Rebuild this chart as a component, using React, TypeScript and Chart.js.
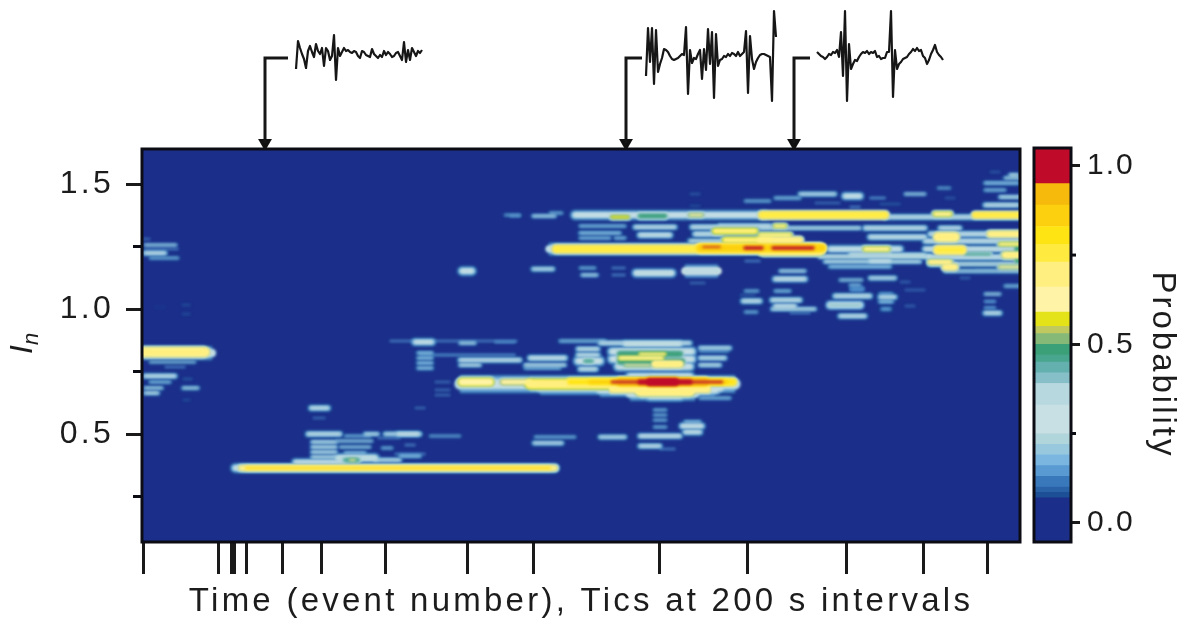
import React, { useEffect, useRef } from "react";
import { Chart, registerables } from "chart.js";

Chart.register(...registerables);

type Band = [number, number, number, number, number]; // event from, event to, In, probability, In spread

const xTickEvents = [143, 218, 231, 234, 246, 282, 321, 385, 467, 533, 659, 747, 846, 923, 987];
const yLabelled = [0.5, 1.0, 1.5];
const yMinor = [0.25, 0.75, 1.25];
const probLabelled = [0.0, 0.5, 1.0];
const probMinor = [0.25, 0.75];

const probEdges = [-0.054, 0.07, 0.085, 0.1, 0.13, 0.16, 0.19, 0.22, 0.25, 0.33, 0.39, 0.42, 0.45, 0.47, 0.5, 0.53, 0.55, 0.59, 0.66, 0.73, 0.78, 0.83, 0.89, 0.95, 1.05];
const probColors = ["#1b2f8a", "#1c4f96", "#2a62a8", "#3a78bc", "#5a9ad2", "#7ab6e0", "#98c8de", "#b0d6dc", "#c8dfe4", "#b8d8e0", "#86bfc8", "#64b0ae", "#48a68e", "#3ba078", "#86b878", "#c0c860", "#e4e218", "#fff3a8", "#ffef80", "#ffeb40", "#ffe414", "#fcd00e", "#f6ba0c", "#c00a2a"];

const bandsEarly: Band[] = [
  [145, 176, 1.256, 0.25, 0.006], [143, 150, 1.28, 0.15, 0.004], [145, 165, 1.224, 0.3, 0.01],
  [150, 178, 1.204, 0.2, 0.006], [145, 178, 1.24, 0.15, 0.006],
  [143, 212, 0.824, 0.3, 0.04], [143, 205, 0.828, 0.72, 0.032],
  [150, 195, 0.788, 0.22, 0.006], [165, 185, 0.768, 0.15, 0.006], [145, 175, 0.732, 0.3, 0.01],
  [150, 170, 0.708, 0.2, 0.008], [145, 162, 0.684, 0.22, 0.01], [145, 158, 0.664, 0.25, 0.01],
  [183, 198, 0.684, 0.22, 0.01], [183, 192, 0.72, 0.1, 0.006], [183, 190, 0.636, 0.1, 0.004],
  [155, 165, 1.008, 0.08, 0.004], [182, 190, 1.016, 0.1, 0.004], [182, 190, 0.98, 0.1, 0.004],
];

const bandsLow: Band[] = [
  [235, 555, 0.364, 0.3, 0.024], [241, 555, 0.364, 0.72, 0.014], [246, 550, 0.364, 0.88, 0.006],
  [311, 328, 0.604, 0.3, 0.012], [313, 325, 0.564, 0.15, 0.004], [308, 340, 0.5, 0.3, 0.012],
  [312, 336, 0.468, 0.25, 0.01], [312, 336, 0.448, 0.25, 0.01], [312, 336, 0.428, 0.25, 0.01],
  [312, 336, 0.408, 0.25, 0.01], [295, 345, 0.388, 0.3, 0.016],
  [345, 370, 0.492, 0.2, 0.006], [337, 372, 0.472, 0.22, 0.008], [340, 370, 0.448, 0.22, 0.008],
  [345, 365, 0.424, 0.2, 0.01], [338, 375, 0.404, 0.33, 0.026], [345, 358, 0.396, 0.46, 0.014],
  [350, 355, 0.396, 0.6, 0.006], [365, 378, 0.5, 0.25, 0.01],
  [398, 418, 0.5, 0.3, 0.01], [378, 400, 0.484, 0.15, 0.006], [382, 392, 0.444, 0.2, 0.006],
  [375, 400, 0.396, 0.25, 0.012], [405, 415, 0.456, 0.15, 0.006], [400, 420, 0.412, 0.2, 0.01],
  [430, 460, 0.492, 0.2, 0.004], [395, 425, 0.42, 0.15, 0.006],
];

const bandsMiddle: Band[] = [
  [460, 735, 0.7, 0.3, 0.056], [540, 720, 0.688, 0.3, 0.046], [600, 715, 0.68, 0.3, 0.046], [630, 695, 0.664, 0.3, 0.046], [650, 680, 0.652, 0.3, 0.028], [630, 690, 0.73, 0.3, 0.028],
  [462, 490, 0.708, 0.64, 0.028], [503, 530, 0.708, 0.62, 0.018], [530, 640, 0.7, 0.66, 0.036],
  [610, 710, 0.692, 0.7, 0.046], [640, 690, 0.672, 0.68, 0.036],
  [570, 733, 0.708, 0.8, 0.022], [590, 727, 0.708, 0.88, 0.014], [620, 705, 0.708, 0.9, 0.028],
  [612, 722, 0.708, 1.0, 0.01], [640, 690, 0.708, 1.0, 0.02], [650, 675, 0.708, 1.0, 0.032],
  [390, 517, 0.872, 0.15, 0.006], [415, 432, 0.868, 0.3, 0.018], [460, 475, 0.864, 0.25, 0.008], [495, 515, 0.868, 0.15, 0.008],
  [418, 432, 0.824, 0.2, 0.01], [418, 432, 0.804, 0.2, 0.01], [418, 432, 0.784, 0.2, 0.01], [418, 432, 0.764, 0.2, 0.01],
  [420, 515, 0.816, 0.15, 0.008], [460, 520, 0.796, 0.3, 0.01], [460, 480, 0.776, 0.25, 0.01],
  [530, 565, 0.804, 0.3, 0.014], [525, 565, 0.776, 0.25, 0.01], [525, 560, 0.764, 0.2, 0.008],
  [560, 605, 0.872, 0.2, 0.008], [600, 690, 0.864, 0.3, 0.01],
  [578, 598, 0.84, 0.25, 0.016], [578, 598, 0.816, 0.3, 0.012], [578, 600, 0.792, 0.3, 0.028], [585, 592, 0.792, 0.45, 0.012], [580, 596, 0.76, 0.3, 0.012],
  [625, 680, 0.86, 0.3, 0.018], [612, 692, 0.83, 0.3, 0.028], [612, 692, 0.8, 0.3, 0.028], [618, 690, 0.77, 0.3, 0.028],
  [620, 680, 0.82, 0.47, 0.022], [620, 682, 0.79, 0.47, 0.022],
  [620, 662, 0.804, 0.65, 0.012], [640, 665, 0.82, 0.64, 0.008], [655, 680, 0.78, 0.7, 0.022], [625, 650, 0.775, 0.6, 0.006],
  [700, 730, 0.844, 0.25, 0.012], [700, 725, 0.804, 0.25, 0.014], [700, 720, 0.776, 0.25, 0.012], [700, 728, 0.832, 0.18, 0.008],
  [700, 730, 0.644, 0.2, 0.008], [435, 450, 0.708, 0.15, 0.004], [435, 450, 0.676, 0.15, 0.004], [435, 450, 0.656, 0.15, 0.004],
  [415, 425, 0.604, 0.15, 0.004],
  [654, 666, 0.596, 0.2, 0.006], [654, 666, 0.576, 0.2, 0.006], [654, 666, 0.556, 0.2, 0.006], [654, 666, 0.528, 0.2, 0.006],
  [682, 702, 0.532, 0.35, 0.014], [685, 700, 0.508, 0.3, 0.014], [685, 700, 0.548, 0.2, 0.01],
  [385, 420, 0.5, 0.3, 0.008], [535, 575, 0.488, 0.2, 0.006], [534, 562, 0.464, 0.3, 0.008],
  [600, 625, 0.488, 0.3, 0.008], [640, 680, 0.492, 0.35, 0.01], [640, 660, 0.452, 0.3, 0.01], [660, 675, 0.44, 0.15, 0.006],
];

const bandsUpper: Band[] = [
  [549, 820, 1.24, 0.3, 0.036], [556, 820, 1.24, 0.76, 0.024], [700, 822, 1.244, 0.85, 0.03], [762, 820, 1.232, 0.68, 0.03],
  [703, 720, 1.248, 1.0, 0.006], [745, 762, 1.244, 1.0, 0.014], [773, 813, 1.244, 1.0, 0.014],
  [533, 555, 1.372, 0.25, 0.008], [510, 520, 1.372, 0.15, 0.008], [550, 562, 1.384, 0.2, 0.006],
  [575, 765, 1.376, 0.3, 0.026], [640, 665, 1.372, 0.47, 0.016], [612, 628, 1.368, 0.58, 0.01], [690, 702, 1.376, 0.6, 0.01],
  [762, 885, 1.376, 0.76, 0.022], [885, 1020, 1.368, 0.3, 0.012], [975, 1020, 1.376, 0.75, 0.018], [935, 950, 1.38, 0.65, 0.014],
  [580, 625, 1.332, 0.2, 0.008], [580, 620, 1.304, 0.2, 0.01], [580, 610, 1.284, 0.2, 0.008], [615, 625, 1.284, 0.2, 0.008],
  [635, 675, 1.328, 0.3, 0.01], [640, 670, 1.296, 0.3, 0.016], [692, 720, 1.328, 0.3, 0.012], [695, 722, 1.3, 0.3, 0.014], [690, 725, 1.272, 0.28, 0.012],
  [720, 770, 1.332, 0.3, 0.012], [715, 755, 1.312, 0.66, 0.018], [725, 770, 1.276, 0.66, 0.018],
  [760, 800, 1.276, 0.7, 0.018], [775, 785, 1.332, 0.65, 0.01], [760, 790, 1.296, 0.65, 0.012], [760, 860, 1.324, 0.25, 0.01],
  [505, 520, 1.376, 0.2, 0.004], [690, 700, 1.46, 0.12, 0.004], [745, 770, 1.432, 0.2, 0.006], [690, 700, 1.412, 0.1, 0.004],
  [533, 553, 1.16, 0.3, 0.008], [580, 595, 1.164, 0.2, 0.006], [582, 597, 1.136, 0.25, 0.008], [612, 625, 1.164, 0.15, 0.006], [612, 625, 1.136, 0.15, 0.006],
  [636, 672, 1.144, 0.35, 0.022], [685, 718, 1.152, 0.35, 0.036], [690, 705, 1.104, 0.15, 0.004],
  [745, 760, 1.192, 0.15, 0.006], [745, 758, 1.072, 0.2, 0.006], [743, 760, 1.032, 0.3, 0.012], [745, 757, 0.988, 0.2, 0.006],
  [462, 472, 1.152, 0.3, 0.024],
];

const bandsLate: Band[] = [
  [820, 930, 1.21, 0.27, 0.014], [825, 920, 1.19, 0.25, 0.012], [830, 890, 1.17, 0.2, 0.012], [865, 925, 1.324, 0.3, 0.012], [870, 925, 1.288, 0.3, 0.014],
  [830, 900, 1.24, 0.3, 0.02], [865, 888, 1.24, 0.65, 0.014], [850, 890, 1.22, 0.3, 0.01], [870, 890, 1.192, 0.3, 0.01],
  [890, 925, 1.216, 0.25, 0.014], [930, 1020, 1.3, 0.3, 0.014], [925, 1020, 1.272, 0.3, 0.014], [925, 1020, 1.24, 0.32, 0.016], [928, 1020, 1.208, 0.3, 0.016], [930, 1020, 1.18, 0.28, 0.012], [945, 1020, 1.152, 0.22, 0.012],
  [938, 955, 1.288, 0.72, 0.03], [938, 962, 1.236, 0.74, 0.028], [930, 950, 1.188, 0.68, 0.014], [945, 955, 1.168, 0.7, 0.018],
  [940, 960, 1.324, 0.3, 0.01], [965, 990, 1.22, 0.45, 0.008],
  [990, 1020, 1.3, 0.72, 0.018], [1000, 1020, 1.26, 0.65, 0.01], [1005, 1020, 1.216, 0.68, 0.022], [1000, 1020, 1.168, 0.6, 0.01],
  [1015, 1020, 1.22, 0.47, 0.07],
  [985, 1018, 1.504, 0.2, 0.01], [985, 1005, 1.476, 0.2, 0.008], [1005, 1020, 1.524, 0.22, 0.01], [1000, 1020, 1.448, 0.25, 0.01],
  [985, 1018, 1.416, 0.3, 0.01], [1010, 1018, 1.536, 0.25, 0.01], [990, 1000, 1.548, 0.12, 0.004],
  [905, 925, 1.46, 0.25, 0.006], [938, 950, 1.484, 0.2, 0.004], [945, 955, 1.444, 0.12, 0.004],
  [800, 835, 1.46, 0.3, 0.008], [775, 800, 1.444, 0.2, 0.008], [845, 860, 1.452, 0.3, 0.02], [870, 885, 1.444, 0.15, 0.008],
  [815, 840, 1.424, 0.15, 0.004], [850, 860, 1.408, 0.15, 0.006], [880, 900, 1.42, 0.1, 0.006],
  [780, 805, 1.152, 0.25, 0.008], [775, 805, 1.12, 0.35, 0.012], [775, 790, 1.072, 0.2, 0.008], [772, 800, 1.036, 0.3, 0.012],
  [772, 815, 1.0, 0.25, 0.01], [775, 795, 1.012, 0.35, 0.01], [790, 810, 0.984, 0.15, 0.006],
  [840, 862, 1.116, 0.22, 0.008], [850, 860, 1.096, 0.2, 0.008], [870, 895, 1.124, 0.3, 0.008], [852, 862, 1.08, 0.14, 0.03],
  [835, 870, 1.052, 0.3, 0.012], [830, 860, 1.016, 0.4, 0.02], [840, 865, 0.972, 0.3, 0.01],
  [880, 892, 1.06, 0.17, 0.01], [880, 892, 1.03, 0.2, 0.012], [882, 890, 1.0, 0.17, 0.012], [880, 895, 1.048, 0.3, 0.01],
  [905, 925, 1.076, 0.14, 0.004], [900, 910, 1.108, 0.14, 0.004], [905, 915, 1.012, 0.14, 0.004], [960, 970, 1.124, 0.14, 0.004],
  [985, 1000, 1.06, 0.25, 0.006], [985, 1000, 0.984, 0.3, 0.01], [985, 995, 1.03, 0.15, 0.012], [985, 995, 1.005, 0.15, 0.012], [1005, 1020, 1.092, 0.2, 0.008],
  [975, 1000, 1.156, 0.14, 0.004], [740, 755, 1.056, 0.12, 0.004],
];

const traceStep = 2;
const traceQuietStart = 296;
const traceQuiet = [-15, 13, 6, 0, -5, -14, 3, 8, 2, -3, 10, 3, 0, 6, -12, 6, 3, -6, -2, 19, -26, 6, -2, 2, 6, 3, 4, 2, 1, 3, 2, -2, -4, 3, 2, -1, -2, -3, 5, 0, -2, -4, -1, -3, 3, -1, 2, 0, -3, -2, 1, 2, -2, -6, 12, -8, 4, -6, 6, 2, -2, 3, 1, 4];
const traceBurstStart = 646;
const traceBurst = [-22, 26, -8, 26, -30, 24, -18, -10, -4, 5, 4, 2, -2, -5, -6, -5, -4, -2, 0, -1, 27, -40, 4, -9, -4, -5, 0, 4, -25, 5, -16, 25, -10, 22, -44, 20, -12, -6, -5, -2, -3, 0, -2, 1, 0, -2, 2, -2, 0, 2, 23, -39, 18, -5, -15, -8, -4, -1, 0, 0, -1, -2, -3, -47, 43, 17];
const traceSpikesStart = 817;
const traceSpikes = [2, 0, -2, -3, -5, -3, 0, -1, 2, 1, 4, -3, 22, -22, 43, -47, 10, -15, -10, -6, -7, -3, 0, 2, 1, 3, 0, 2, 1, 3, -3, -2, -5, -4, -4, 2, 2, 43, -43, 4, -15, -10, -8, -5, -4, -3, 0, 2, 5, 3, 6, 3, 4, -2, -4, -10, -6, 0, 4, 9, 2, -1, -3, -6];

const arrowEvents = [265, 626, 794];
const bracketEnds = [288, 642, 810];
const bracketLevel = -4;
const arrowTipLevel = -89;

const contourShares = [1, 0.88, 0.72, 0.45, 0.25];
const contourWiden = [0, 0.003, 0.006, 0.011, 0.017];
const faintCoreScale = [0.35, 0.55, 0.8, 1, 1];

const allBands = [...bandsEarly, ...bandsLow, ...bandsMiddle, ...bandsUpper, ...bandsLate];

const colorFor = (p: number) => {
  for (let i = 0; i < probColors.length; i++) if (p < probEdges[i + 1]) return probColors[i];
  return probColors[probColors.length - 1];
};

const layers = allBands
  .flatMap((b) =>
    contourShares
      .map((share, i) => ({
        b,
        p: b[3] * share,
        spread: b[3] < 0.45 ? b[4] * faintCoreScale[i] + (i >= 3 ? contourWiden[i] : 0) : b[4] + contourWiden[i],
      }))
      .filter((l) => l.p >= probEdges[1])
  )
  .sort((a, b) => b.p - a.p);

const FONT = "'Liberation Sans', Arial, sans-serif";
const INK = "#1c1c1c";
const PX_PER_IN = 250;

const spacing = (value: string) => ({
  id: "spacing",
  beforeDraw(chart: any) { chart.ctx.letterSpacing = value; },
});

const fieldPlugin = {
  id: "field",
  beforeDatasetsDraw(chart: any) {
    const { ctx, chartArea: a } = chart;
    ctx.save();
    ctx.fillStyle = probColors[0];
    ctx.fillRect(a.left, a.top, a.width, a.height);
    ctx.restore();
    ctx.filter = "blur(1.5px)";
  },
  afterDatasetsDraw(chart: any) {
    const { ctx, chartArea: a, scales } = chart;
    ctx.filter = "none";
    ctx.save();
    ctx.strokeStyle = "#0c0c14";
    ctx.lineWidth = 3;
    ctx.strokeRect(a.left, a.top, a.width, a.height);
    ctx.lineWidth = 3;
    yMinor.forEach((v) => {
      const py = scales.y.getPixelForValue(v);
      ctx.beginPath(); ctx.moveTo(a.left - 9, py); ctx.lineTo(a.left, py); ctx.stroke();
    });
    ctx.fillStyle = INK;
    ctx.translate(32, 354);
    ctx.rotate(-Math.PI / 2);
    ctx.font = `italic 32px ${FONT}`;
    ctx.textAlign = "left";
    ctx.textBaseline = "alphabetic";
    ctx.fillText("I", 0, 0);
    ctx.font = `italic 22px ${FONT}`;
    ctx.fillText("n", 9, 6);
    ctx.restore();
  },
};

const barPlugin = {
  id: "barFrame",
  afterDatasetsDraw(chart: any) {
    const { ctx, chartArea: a, scales } = chart;
    ctx.save();
    ctx.strokeStyle = "#0c0c14";
    ctx.lineWidth = 3;
    ctx.strokeRect(a.left, a.top, a.width, a.height);
    probMinor.forEach((v) => {
      const py = scales.y.getPixelForValue(v);
      ctx.beginPath(); ctx.moveTo(a.right, py); ctx.lineTo(a.right + 5, py); ctx.stroke();
    });
    ctx.fillStyle = INK;
    ctx.translate(a.right + 91, 365);
    ctx.rotate(Math.PI / 2);
    ctx.font = `33px ${FONT}`;
    ctx.textAlign = "center";
    ctx.textBaseline = "middle";
    ctx.letterSpacing = "3px";
    ctx.fillText("Probability", 0, 0);
    ctx.restore();
  },
};

export default function App() {
  const mainRef = useRef<HTMLCanvasElement>(null);
  const barRef = useRef<HTMLCanvasElement>(null);
  const topRef = useRef<HTMLCanvasElement>(null);

  useEffect(() => {
    document.body.style.margin = "0";

    const main = new Chart(mainRef.current!, {
      type: "scatter",
      data: {
        datasets: layers.map(({ b, p, spread }) => ({
          data: [{ x: b[0], y: b[2] }, { x: b[1], y: b[2] }],
          showLine: true,
          pointRadius: 0,
          borderColor: colorFor(p),
          borderWidth: spread * PX_PER_IN,
          borderCapStyle: (spread > 0.045 ? "butt" : "round") as "butt" | "round",
        })),
      },
      options: {
        responsive: false,
        animation: false,
        layout: { autoPadding: false, padding: { top: 149, right: 166, left: 0, bottom: 0 } },
        plugins: { legend: { display: false }, tooltip: { enabled: false } },
        scales: {
          x: {
            type: "linear",
            min: 142,
            max: 1020,
            afterBuildTicks: (s: any) => { s.ticks = xTickEvents.map((value) => ({ value })); },
            afterFit: (s: any) => { s.height = 80; },
            ticks: { display: false, autoSkip: false },
            border: { display: false },
            grid: { drawOnChartArea: false, drawTicks: true, tickLength: 32, tickWidth: 3, tickColor: "#1a1a1a" },
            title: { display: true, text: "Time (event number), Tics at 200 s intervals", color: INK, font: { family: FONT, size: 33 }, padding: { top: 0, bottom: 0 } },
          },
          y: {
            type: "linear",
            min: 0.068,
            max: 1.64,
            afterBuildTicks: (s: any) => { s.ticks = yLabelled.map((value) => ({ value })); },
            afterFit: (s: any) => { s.width = 142; },
            ticks: { color: INK, font: { family: FONT, size: 32 }, padding: 12, autoSkip: false, callback: (v: any) => Number(v).toFixed(1) },
            border: { display: false },
            grid: { drawOnChartArea: false, drawTicks: true, tickLength: 16, tickWidth: 3, tickColor: "#1a1a1a" },
          },
        },
      },
      plugins: [spacing("3.25px"), fieldPlugin],
    } as any);

    const bar = new Chart(barRef.current!, {
      type: "bar",
      data: {
        labels: ["Probability"],
        datasets: probColors.map((c, i) => ({
          data: [[probEdges[i], probEdges[i + 1]]],
          backgroundColor: c,
          barPercentage: 1,
          categoryPercentage: 1,
          grouped: false,
          borderWidth: 0,
        })),
      },
      options: {
        responsive: false,
        animation: false,
        layout: { padding: { left: 6, top: 148, bottom: 80, right: 0 } },
        plugins: { legend: { display: false }, tooltip: { enabled: false } },
        scales: {
          x: { display: false },
          y: {
            position: "right",
            min: -0.054,
            max: 1.05,
            afterBuildTicks: (s: any) => { s.ticks = probLabelled.map((value) => ({ value })); },
            afterFit: (s: any) => { s.width = 115; },
            ticks: { color: INK, font: { family: FONT, size: 30 }, padding: 7, autoSkip: false, callback: (v: any) => Number(v).toFixed(1) },
            border: { display: false },
            grid: { drawOnChartArea: false, drawTicks: true, tickLength: 9, tickWidth: 3, tickColor: "#1a1a1a" },
          },
        },
      },
      plugins: [spacing("2px"), barPlugin],
    } as any);

    const trace = (start: number, values: number[]) => ({
      data: values.map((y, i) => ({ x: start + i * traceStep, y })),
      showLine: true,
      pointRadius: 0,
      borderColor: "#161616",
      borderWidth: 2.2,
      borderJoinStyle: "round" as const,
    });
    const top = new Chart(topRef.current!, {
      type: "scatter",
      data: {
        datasets: [
          trace(traceQuietStart, traceQuiet),
          trace(traceBurstStart, traceBurst),
          trace(traceSpikesStart, traceSpikes),
          ...arrowEvents.map((x, i) => ({
            data: [{ x: bracketEnds[i], y: bracketLevel }, { x, y: bracketLevel }, { x, y: arrowTipLevel }],
            showLine: true,
            pointRadius: 0,
            borderColor: "#161616",
            borderWidth: 3,
          })),
          {
            data: arrowEvents.map((x) => ({ x, y: arrowTipLevel })),
            showLine: false,
            pointStyle: "triangle",
            rotation: 180,
            pointRadius: 8,
            backgroundColor: "#111",
            borderColor: "#111",
            borderWidth: 0,
          },
        ],
      },
      options: {
        responsive: false,
        animation: false,
        layout: { autoPadding: false, padding: 0 },
        plugins: { legend: { display: false }, tooltip: { enabled: false } },
        scales: {
          x: { type: "linear", display: false, min: 0, max: 1186 },
          y: { type: "linear", display: false, min: -95, max: 54 },
        },
      },
    } as any);

    return () => { main.destroy(); bar.destroy(); top.destroy(); };
  }, []);

  const abs = { position: "absolute" as const, display: "block" };
  return (
    <div style={{ position: "absolute", left: 0, top: 0, width: 1186, height: 622, overflow: "hidden", background: "#fff" }}>
      <canvas ref={mainRef} width={1186} height={622} style={{ ...abs, left: 0, top: 0 }} />
      <canvas ref={barRef} width={158} height={622} style={{ ...abs, left: 1028, top: 0 }} />
      <canvas ref={topRef} width={1186} height={149} style={{ ...abs, left: 0, top: 0 }} />
    </div>
  );
}
